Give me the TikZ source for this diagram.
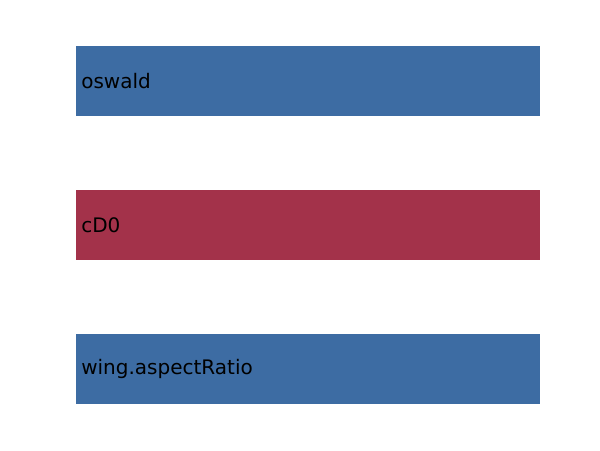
\documentclass[tikz,border=0pt]{standalone}
\usepackage{fontspec}
\setmainfont{DejaVu Sans}
\usepackage{tikz}
\usetikzlibrary{positioning, calc}
\definecolor{barblue}{HTML}{3D6CA3}
\definecolor{barred}{HTML}{A3324A}

\begin{document}
\begin{tikzpicture}[
    x=0.75pt, y=-0.75pt,
    % Styles
    bar/.style={rectangle, draw=none, minimum width=348pt, minimum height=52.5pt, inner sep=0pt, anchor=north west},
    bluebar/.style={bar, fill=barblue},
    redbar/.style={bar, fill=barred},
    barlbl/.style={anchor=west, inner sep=0pt, text=black, font=\fontsize{15}{18}\selectfont}
]
\useasboundingbox (0,0) rectangle (600,450);

% 1. BARS
\node[bluebar] (oswald) at (76,46) {};
\node[redbar] (cdzero) at (76,190) {};
\node[bluebar] (aspect) at (76,334) {};

% 2. LABELS
\node[barlbl] (oswald_lbl) at ([xshift=3.75pt]oswald.west) {oswald};
\node[barlbl] (cdzero_lbl) at ([xshift=3.75pt]cdzero.west) {cD0};
\node[barlbl] (aspect_lbl) at ([xshift=3.75pt]aspect.west) {wing.aspectRatio};

\end{tikzpicture}
\end{document}
